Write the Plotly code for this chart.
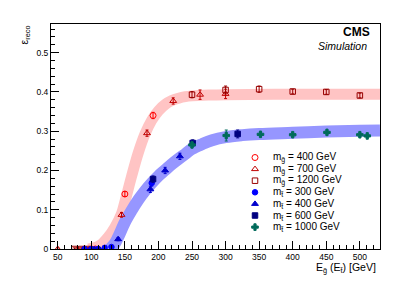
import plotly.graph_objects as go

# ---------------- data ----------------
# gluino samples (reco efficiency vs gluino energy)
gl400_E = [90, 100, 106, 150, 192]
gl400_eff = [0.0, 0.0, 0.0, 0.14, 0.34]
gl400_err = [0.003, 0.003, 0.003, 0.006, 0.008]

gl700_E = [50, 80, 98, 145, 183, 222, 262, 300]
gl700_eff = [0.0, 0.0, 0.0, 0.087, 0.295, 0.377, 0.393, 0.395]
gl700_err = [0.003, 0.003, 0.003, 0.006, 0.008, 0.008, 0.012, 0.012]

gl1200_E = [75, 85, 95, 250, 300, 350, 400, 450, 500]
gl1200_eff = [0.0, 0.0, 0.0, 0.393, 0.405, 0.407, 0.401, 0.400, 0.391]
gl1200_err = [0.003, 0.003, 0.003, 0.008, 0.01, 0.008, 0.006, 0.006, 0.006]

# stop samples
st300_E = [90, 100, 110, 120, 130, 190]
st300_eff = [0.0, 0.0, 0.0, 0.003, 0.005, 0.168]
st300_err = [0.002, 0.002, 0.002, 0.002, 0.002, 0.008]

st400_E = [105, 112, 140, 188, 210, 232]
st400_eff = [0.0, 0.0, 0.025, 0.152, 0.200, 0.236]
st400_err = [0.002, 0.002, 0.004, 0.008, 0.008, 0.008]

st600_E = [192, 251, 318]
st600_eff = [0.178, 0.270, 0.293]
st600_err = [0.008, 0.008, 0.01]

st1000_E = [250, 301, 352, 400, 451, 500, 511]
st1000_eff = [0.265, 0.289, 0.292, 0.291, 0.297, 0.291, 0.288]
st1000_err = [0.006, 0.014, 0.004, 0.004, 0.004, 0.004, 0.004]

# fitted bands
band_gl_E = [95, 105, 115, 125, 135, 145, 150, 160, 170, 180, 190, 200, 210, 220,
             230, 240, 250, 275, 300, 400, 530]
band_gl_eff = [0.0, 0.003, 0.012, 0.03, 0.055, 0.09, 0.12, 0.185, 0.245, 0.293, 0.328,
               0.352, 0.368, 0.378, 0.384, 0.388, 0.390, 0.392, 0.393, 0.394, 0.394]

band_st_E = [128, 135, 140, 150, 160, 170, 180, 190, 200, 210, 220, 232, 240, 250,
             265, 280, 300, 325, 350, 400, 450, 500, 530]
band_st_eff = [0.0, 0.014, 0.03, 0.068, 0.098, 0.125, 0.148, 0.168, 0.186, 0.201, 0.216,
               0.232, 0.242, 0.255, 0.267, 0.277, 0.285, 0.290, 0.293, 0.296, 0.299,
               0.301, 0.302]

x_ticks = [50, 100, 150, 200, 250, 300, 350, 400, 450, 500]

legend_labels = [
    "m<sub>g\u0303</sub> = 400 GeV",
    "m<sub>g\u0303</sub> = 700 GeV",
    "m<sub>g\u0303</sub> = 1200 GeV",
    "m<sub>t\u0303</sub> = 300 GeV",
    "m<sub>t\u0303</sub> = 400 GeV",
    "m<sub>t\u0303</sub> = 600 GeV",
    "m<sub>t\u0303</sub> = 1000 GeV",
]

# ---------------- styles ----------------
FONT = "Liberation Sans, Arial, sans-serif"
series = [
    (gl400_E, gl400_eff, gl400_err, "circle-open", "#ff0000", 6),
    (gl700_E, gl700_eff, gl700_err, "triangle-up-open", "#c00000", 6),
    (gl1200_E, gl1200_eff, gl1200_err, "square-open", "#990000", 5.5),
    (st300_E, st300_eff, st300_err, "circle", "#0000ff", 5.5),
    (st400_E, st400_eff, st400_err, "triangle-up", "#0000cc", 6),
    (st600_E, st600_eff, st600_err, "square", "#000080", 5.5),
    (st1000_E, st1000_eff, st1000_err, "cross", "#006b5b", 5.5),
]

fig = go.Figure()

# bands
fig.add_trace(go.Scatter(x=band_gl_E, y=band_gl_eff, mode="lines",
                         line=dict(color="rgb(255,196,196)", width=11, shape="spline"),
                         hoverinfo="skip", showlegend=False))
fig.add_trace(go.Scatter(x=band_st_E, y=band_st_eff, mode="lines",
                         line=dict(color="rgb(150,150,255)", width=12, shape="spline"),
                         hoverinfo="skip", showlegend=False))

for xs, ys, es, sym, col, sz in series:
    fig.add_trace(go.Scatter(
        x=xs, y=ys, mode="markers",
        marker=dict(symbol=sym, color=col, size=sz,
                    line=dict(color=col, width=1)),
        error_y=dict(type="data", array=es, color=col, thickness=1, width=1.5),
        showlegend=False, cliponaxis=True))

# manual legend (compact rows like the reference)
L_LEFT, L_RIGHT, L_TOP, L_BOTTOM = 43, 27, 16, 45
W, H = 399, 286
pw = W - L_LEFT - L_RIGHT
ph = H - L_TOP - L_BOTTOM
row0_px, row_step = 149.5, 11.6
key_x = (247 - L_LEFT) / pw
txt_x = (263 - L_LEFT) / pw
key_y = [(H - L_BOTTOM - (row0_px + i * row_step)) / ph for i in range(len(series))]
for i, (xs, ys, es, sym, col, sz) in enumerate(series):
    fig.add_trace(go.Scatter(
        x=[key_x], y=[key_y[i]], xaxis="x2", yaxis="y2", mode="markers",
        marker=dict(symbol=sym, color=col, size=sz, line=dict(color=col, width=1)),
        showlegend=False, hoverinfo="skip"))
    fig.add_annotation(x=txt_x, y=key_y[i], xref="paper", yref="paper",
                       text=legend_labels[i], showarrow=False, xanchor="left",
                       yanchor="middle", font=dict(size=10, color="black", family=FONT))

axis_common = dict(showgrid=False, zeroline=False, showline=True, linecolor="black",
                   linewidth=1, mirror=True, ticks="inside", tickcolor="black",
                   tickwidth=1, ticklen=8, tickfont=dict(size=8.5, family=FONT, color="black"))

fig.update_layout(
    width=W, height=H,
    margin=dict(l=L_LEFT, r=L_RIGHT, t=L_TOP, b=L_BOTTOM),
    paper_bgcolor="white", plot_bgcolor="white",
    font=dict(family=FONT, color="black"),
    xaxis=dict(range=[40, 530], tickvals=x_ticks,
               minor=dict(ticks="inside", dtick=10, tick0=0, ticklen=4,
                          tickcolor="black"),
               **axis_common),
    yaxis=dict(range=[0, 0.573], tick0=0, dtick=0.1,
               minor=dict(ticks="inside", dtick=0.02, tick0=0, ticklen=4,
                          tickcolor="black"),
               **axis_common),
    xaxis2=dict(range=[0, 1], overlaying="x", visible=False),
    yaxis2=dict(range=[0, 1], overlaying="y", visible=False),
    showlegend=False,
)

# texts
fig.add_annotation(x=1 - 8 / pw, y=1 - 8 / ph, xref="paper", yref="paper",
                   text="<b>CMS</b>", showarrow=False, xanchor="right", yanchor="middle",
                   font=dict(size=12, family=FONT, color="black"))
fig.add_annotation(x=1 - 11 / pw, y=1 - 22 / ph, xref="paper", yref="paper",
                   text="<i>Simulation</i>", showarrow=False, xanchor="right",
                   yanchor="middle", font=dict(size=10.5, family=FONT, color="black"))
fig.add_annotation(x=1 - 2 / pw, y=-19 / ph, xref="paper", yref="paper",
                   text="E<sub>g\u0303</sub> (E<sub>t\u0303</sub>) [GeV]", showarrow=False,
                   xanchor="right", yanchor="middle",
                   font=dict(size=10.5, family=FONT, color="black"))
fig.add_annotation(x=-27 / pw, y=1, xref="paper", yref="paper",
                   text="\u03b5<sub>reco</sub>", showarrow=False, textangle=-90,
                   xanchor="center", yanchor="top",
                   font=dict(size=10.5, family=FONT, color="black"))

fig.write_html("out.html")
